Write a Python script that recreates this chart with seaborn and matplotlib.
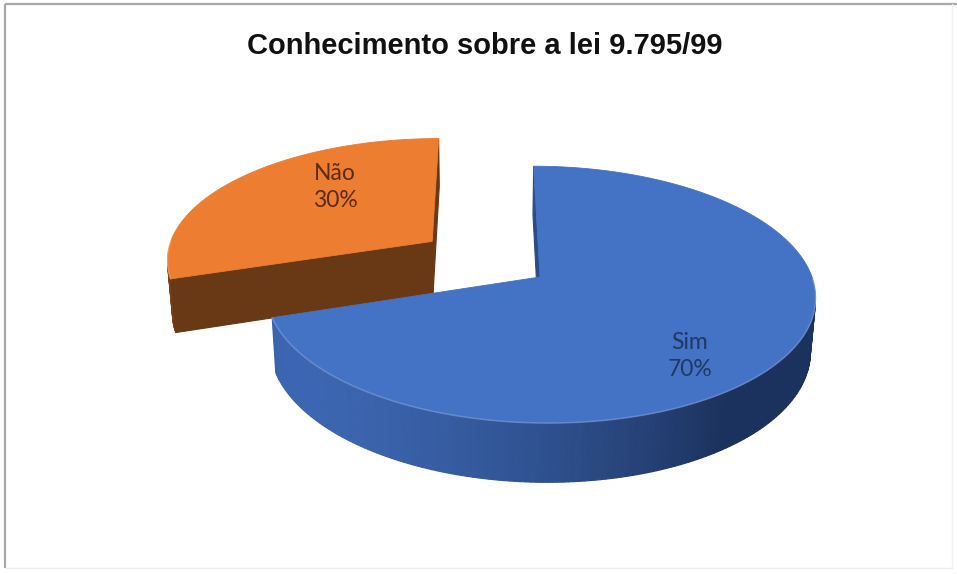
import numpy as np
import matplotlib
matplotlib.use("Agg")
import matplotlib.pyplot as plt
from matplotlib import font_manager as fm
from matplotlib.colors import to_rgb
import seaborn as sns

# ---------------- data ----------------
categories = ["Sim", "Não"]
values = [70, 30]
explode = [0.0, 0.5]
title_text = "Conhecimento sobre a lei 9.795/99"

# ---------------- style ----------------
top_colors = ["#4472C4", "#ED7D31"]
side_light = ["#3C66B1", "#7A4219"]
side_dark = ["#1C325E", "#4A260B"]
cut_colors = ["#2B4A88", "#693815"]
label_colors = ["#1F3864", "#5C2D0C"]
label_pos = [(690, 356), (335, 187)]   # layout anchors (pixels)

sns.set_theme(style="white")

def has_font(name, weight="normal"):
    try:
        fm.findfont(fm.FontProperties(family=name, weight=weight), fallback_to_default=False)
        return True
    except Exception:
        return False

title_family = "Liberation Sans Narrow" if has_font("Liberation Sans Narrow", "bold") else "Liberation Sans"
title_size = 23 if title_family == "Liberation Sans Narrow" else 21
label_family = "Lato" if has_font("Lato") else "DejaVu Sans"
plt.rcParams["font.family"] = [label_family, "DejaVu Sans"]

W, H = 957, 574
fig = plt.figure(figsize=(W / 100, H / 100), dpi=100)
ax = fig.add_axes([0, 0, 1, 1])
ax.set_xlim(0, W)
ax.set_ylim(H, 0)
ax.axis("off")

# ---------------- simple perspective camera ----------------
R = 0.155
f = 272.0 / R
cam_x = -0.03                  # camera slightly left of pie centre
cx, cy = 540.0 - f * (0 - cam_x), 277.0
elev = np.deg2rad(27.6)
depth = 0.035
se, ce = np.sin(elev), np.cos(elev)
cam = np.array([cam_x, -ce, se])


def proj(X, Y, Z):
    X, Y, Z = np.asarray(X, float), np.asarray(Y, float), np.asarray(Z, float)
    yv = Y * se + Z * ce
    d = 1.0 + Y * ce - Z * se
    return cx + f * (X - cam_x) / d, cy - f * yv / d


def facing(nx, ny, px, py, pz):
    v = cam - np.array([px, py, pz])
    return nx * v[0] + ny * v[1] > 0


def side_color(i, t):
    s = max(0.0, np.cos(t - np.deg2rad(215)))
    a = np.array(to_rgb(side_dark[i]))
    b = np.array(to_rgb(side_light[i]))
    return tuple(a + (b - a) * s)


total = float(sum(values))
slices = []
cum = 0.0
for i, v in enumerate(values):
    a_start = 90 - 360 * cum / total
    a_end = 90 - 360 * (cum + v) / total
    cum += v
    mid = np.deg2rad((a_start + a_end) / 2)
    ox = explode[i] * R * np.cos(mid)
    oy = explode[i] * R * np.sin(mid)
    lo, hi = min(a_start, a_end), max(a_start, a_end)
    slices.append(dict(i=i, lo=np.deg2rad(lo), hi=np.deg2rad(hi), ox=ox, oy=oy))

# draw back-to-front
slices.sort(key=lambda s: -s["oy"])

for s in slices:
    i, lo, hi, ox, oy = s["i"], s["lo"], s["hi"], s["ox"], s["oy"]
    n = max(8, int(np.degrees(hi - lo) / 1.0))
    t = np.linspace(lo, hi, n + 1)
    Xa = ox + R * np.cos(t)
    Ya = oy + R * np.sin(t)

    # curved outer wall
    quads = []
    for k in range(n):
        tm = 0.5 * (t[k] + t[k + 1])
        px, py = ox + R * np.cos(tm), oy + R * np.sin(tm)
        if not facing(np.cos(tm), np.sin(tm), px, py, -depth / 2):
            continue
        xs = [Xa[k], Xa[k + 1], Xa[k + 1], Xa[k]]
        ys = [Ya[k], Ya[k + 1], Ya[k + 1], Ya[k]]
        zs = [0, 0, -depth, -depth]
        sx, sy = proj(xs, ys, zs)
        quads.append((py, sx, sy, side_color(i, tm)))
    quads.sort(key=lambda q: -q[0])
    for _, sx, sy, c in quads:
        ax.fill(sx, sy, color=c, lw=0.8, ec=c, zorder=2)

    # radial cut faces
    for ang, nang in ((lo, lo - np.pi / 2), (hi, hi + np.pi / 2)):
        ex, ey = ox + R * np.cos(ang), oy + R * np.sin(ang)
        if not facing(np.cos(nang), np.sin(nang), (ox + ex) / 2, (oy + ey) / 2, -depth / 2):
            continue
        sx, sy = proj([ox, ex, ex, ox], [oy, ey, ey, oy], [0, 0, -depth, -depth])
        ax.fill(sx, sy, color=cut_colors[i], lw=0.8, ec=cut_colors[i], zorder=2)

    # top face
    sx, sy = proj(np.r_[ox, Xa], np.r_[oy, Ya], np.zeros(n + 2))
    ax.fill(sx, sy, color=top_colors[i], lw=0.6, ec=top_colors[i], zorder=3)

    # subtle light rim along the front edge of the top face
    front = np.sin(t) < 0
    if front.any():
        rx, ry = proj(Xa[front], Ya[front], np.zeros(front.sum()))
        ax.plot(rx, ry, color="white", alpha=0.18, lw=1.2, zorder=4)

    # data label
    lx, ly = label_pos[i]
    ax.text(lx, ly, f"{categories[i]}\n{values[i]}%", ha="center", va="center",
            fontsize=16.5, color=label_colors[i], linespacing=1.3, zorder=5,
            family=[label_family, "DejaVu Sans"])

# title
ax.text(485, 46, title_text, ha="center", va="center", fontsize=title_size,
        fontweight="bold", color="#111111", family=[title_family, "DejaVu Sans"])

# chart border
ax.plot([5, 5], [4, 568], color="#A8A8A8", lw=1.6, solid_capstyle="butt")
ax.plot([5, 957], [4, 4], color="#A8A8A8", lw=1.6, solid_capstyle="butt")
ax.plot([952, 952], [4, 568], color="#F0F0F0", lw=1.0)
ax.plot([5, 952], [568, 568], color="#EEEEEE", lw=1.0)

fig.savefig("out.png", dpi=100)
